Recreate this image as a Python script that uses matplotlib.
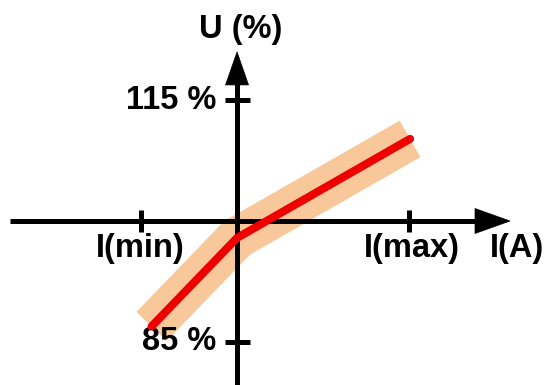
import matplotlib
matplotlib.use("Agg")
import matplotlib.pyplot as plt
from matplotlib.patches import Polygon
from matplotlib.transforms import IdentityTransform
import numpy as np

# ---- data ----
I_values = [-0.497, 0.0, 1.006]          # current, as fraction of I(max)
U_values = [86.9, 97.9, 110.2]           # voltage, %
I_ticks = [-0.56, 1.0]
I_tick_labels = ["I(min)", "I(max)"]
U_ticks = [85, 115]
U_tick_labels = ["85 %", "115 %"]
x_axis_label = "I(A)"
y_axis_label = "U (%)"

# axis geometry (data units)
U_origin = 100
x_left, x_tip = -1.32, 1.587
y_bottom, y_tip = 79.0, 121.0

FONT = dict(family=["Liberation Sans", "DejaVu Sans"], weight="bold", size=23.5, color="black")

fig = plt.figure(figsize=(5.47, 3.85), dpi=100)
ax = fig.add_axes([0, 0, 1, 1])
ax.set_xlim(-1.378, 1.802)
ax.set_ylim(79.63, 127.45)
ax.axis("off")

# band and curve
ax.plot(I_values, U_values, color="#F8C89B", lw=30.2, solid_capstyle="butt",
        solid_joinstyle="miter", zorder=1)
ax.plot(I_values, U_values, color="#EE0000", lw=5.8, solid_capstyle="round",
        solid_joinstyle="round", zorder=4)

# axes lines
axis_lw = 3.6
ax.plot([x_left, x_tip - 0.1], [U_origin, U_origin], color="black", lw=axis_lw,
        solid_capstyle="butt", zorder=2)
ax.plot([0, 0], [y_bottom, y_tip - 2], color="black", lw=axis_lw,
        solid_capstyle="butt", zorder=2)

fig.canvas.draw()

def arrow_head(tip, direction, length_px, half_w_px):
    tx, ty = ax.transData.transform(tip)
    dx, dy = direction
    px, py = -dy, dx
    bx, by = tx - dx * length_px, ty - dy * length_px
    pts = [(tx, ty), (bx + px * half_w_px, by + py * half_w_px),
           (bx - px * half_w_px, by - py * half_w_px)]
    ax.add_patch(Polygon(pts, closed=True, facecolor="black", edgecolor="black",
                         lw=0.5, transform=IdentityTransform(), zorder=3))

arrow_head((x_tip, U_origin), (1, 0), 35, 12.5)
arrow_head((0, y_tip), (0, 1), 33, 11.5)

# ticks
ax.plot(I_ticks, [U_origin] * len(I_ticks), ls="none", marker="|", ms=16,
        mew=axis_lw, color="black", zorder=3)
ax.plot([0] * len(U_ticks), U_ticks, ls="none", marker="_", ms=18,
        mew=axis_lw, color="black", zorder=3)

# tick labels
x_offsets = [0, 2.2]
for xv, lab, dxo in zip(I_ticks, I_tick_labels, x_offsets):
    ax.annotate(lab, (xv, U_origin), xytext=(dxo, -19.5), textcoords="offset points",
                ha="center", va="center", **FONT)
for yv, lab in zip(U_ticks, U_tick_labels):
    ax.annotate(lab, (0, yv), xytext=(-15, 0), textcoords="offset points",
                ha="right", va="center", **FONT)

# axis labels
ax.annotate(x_axis_label, (x_tip, U_origin), xytext=(5, -19.5), textcoords="offset points",
            ha="center", va="center", **FONT)
ax.annotate(y_axis_label, (0, y_tip), xytext=(2.9, 15.8), textcoords="offset points",
            ha="center", va="center", **FONT)

fig.savefig("out.png", dpi=100, facecolor="white")
